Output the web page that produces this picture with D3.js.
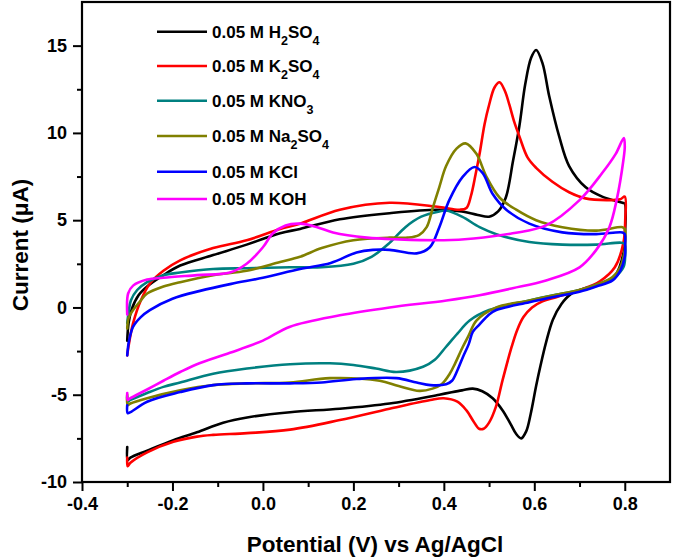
<!DOCTYPE html>
<html><head><meta charset="utf-8">
<script src="https://cdn.jsdelivr.net/npm/d3@7"></script>
<style>
html,body{margin:0;padding:0;background:#fff;}
svg{display:block;font-family:Arial,"Liberation Sans",sans-serif;font-weight:bold;}
</style></head>
<body><svg id="chart" width="675" height="560"></svg>
<script>
// ---------------- data (potential V, current µA) ----------------
const potentialTicks = [-0.4, -0.2, 0.0, 0.2, 0.4, 0.6, 0.8];
const potentialMinorTicks = [-0.3, -0.1, 0.1, 0.3, 0.5, 0.7];
const currentTicks = [-10, -5, 0, 5, 10, 15];
const currentMinorTicks = [-7.5, -2.5, 2.5, 7.5, 12.5];

const seriesLabels = ["0.05 M H_2SO_4", "0.05 M K_2SO_4", "0.05 M KNO_3", "0.05 M Na_2SO_4", "0.05 M KCl", "0.05 M KOH"];
const seriesColors = ["#000000", "#ff0000", "#008080", "#808000", "#0000ff", "#ff00ff"];

const h2so4 = [
 [-0.300,-1.9],[-0.297,-0.9],[-0.290,-0.1],[-0.275,0.7],[-0.256,1.2],[-0.220,1.85],[-0.183,2.4],[-0.110,3.0],[-0.036,3.6],[0.038,4.25],[0.082,4.5],[0.170,5.05],[0.280,5.4],[0.384,5.6],[0.440,5.5],[0.475,5.3],[0.500,5.2],[0.520,5.5],[0.537,6.3],[0.553,8.4],[0.567,10.4],[0.580,12.8],[0.593,14.3],[0.604,14.75],[0.618,14.0],[0.633,12.1],[0.655,9.8],[0.677,8.1],[0.713,6.9],[0.750,6.35],[0.795,6.0],[0.800,5.95],
 [0.801,4.5],[0.797,3.1],[0.778,1.8],[0.737,1.25],[0.707,1.05],[0.680,0.75],[0.660,0.2],[0.641,-0.7],[0.626,-2.0],[0.614,-3.3],[0.604,-4.5],[0.592,-6.1],[0.582,-7.1],[0.571,-7.5],[0.560,-7.25],[0.548,-6.7],[0.530,-5.9],[0.508,-5.2],[0.485,-4.8],[0.464,-4.65],[0.440,-4.75],[0.390,-5.0],[0.280,-5.5],[0.170,-5.8],[0.060,-6.0],[-0.035,-6.3],[-0.088,-6.6],[-0.146,-7.15],[-0.198,-7.6],[-0.256,-8.2],[-0.293,-8.6],[-0.299,-8.75],[-0.300,-8.0]
];
const k2so4 = [
 [-0.300,-2.75],[-0.297,-2.2],[-0.287,-0.9],[-0.270,0.4],[-0.249,1.4],[-0.220,2.1],[-0.183,2.7],[-0.110,3.4],[-0.036,3.85],[0.038,4.5],[0.082,4.8],[0.170,5.6],[0.280,6.0],[0.390,5.75],[0.435,5.6],[0.450,5.7],[0.460,6.4],[0.470,7.6],[0.479,8.8],[0.490,10.5],[0.500,11.6],[0.512,12.6],[0.523,12.9],[0.535,12.4],[0.545,11.6],[0.556,10.6],[0.567,9.8],[0.585,8.6],[0.604,8.0],[0.640,7.2],[0.677,6.6],[0.713,6.25],[0.760,6.15],[0.790,6.2],[0.800,6.35],
 [0.801,5.0],[0.797,3.7],[0.778,2.3],[0.745,1.5],[0.700,1.0],[0.650,0.6],[0.618,0.35],[0.595,0.0],[0.576,-0.55],[0.562,-1.3],[0.550,-2.25],[0.530,-4.15],[0.515,-5.7],[0.500,-6.6],[0.488,-6.95],[0.478,-6.95],[0.465,-6.5],[0.450,-5.9],[0.430,-5.4],[0.400,-5.2],[0.370,-5.3],[0.280,-5.8],[0.170,-6.45],[0.060,-7.0],[-0.035,-7.2],[-0.110,-7.3],[-0.146,-7.4],[-0.198,-7.7],[-0.256,-8.3],[-0.293,-8.9],[-0.299,-9.1],[-0.300,-8.6]
];
const kno3 = [
 [-0.300,-0.9],[-0.297,-0.3],[-0.292,0.4],[-0.278,1.0],[-0.256,1.45],[-0.220,1.85],[-0.183,2.0],[-0.110,2.2],[-0.036,2.25],[0.060,2.3],[0.130,2.3],[0.200,2.5],[0.240,2.9],[0.280,3.7],[0.315,4.6],[0.350,5.2],[0.390,5.5],[0.405,5.55],[0.440,5.2],[0.479,4.6],[0.516,4.2],[0.589,3.75],[0.662,3.6],[0.737,3.6],[0.795,3.7],[0.800,3.6],
 [0.801,3.0],[0.797,2.3],[0.778,1.75],[0.737,1.3],[0.700,1.0],[0.662,0.8],[0.589,0.4],[0.500,-0.15],[0.457,-0.75],[0.430,-1.5],[0.405,-2.25],[0.380,-3.0],[0.354,-3.4],[0.295,-3.7],[0.250,-3.5],[0.200,-3.3],[0.148,-3.2],[0.060,-3.25],[-0.035,-3.5],[-0.110,-3.8],[-0.183,-4.3],[-0.220,-4.55],[-0.256,-4.9],[-0.293,-5.3],[-0.299,-5.4],[-0.300,-5.1]
];
const na2so4 = [
 [-0.300,-1.2],[-0.297,-0.6],[-0.287,-0.15],[-0.270,0.4],[-0.256,0.8],[-0.220,1.2],[-0.183,1.45],[-0.110,1.85],[-0.036,2.1],[0.038,2.6],[0.082,2.9],[0.130,3.4],[0.200,3.85],[0.280,4.0],[0.320,4.0],[0.345,4.15],[0.362,4.6],[0.376,5.75],[0.390,6.9],[0.405,8.1],[0.428,9.1],[0.448,9.4],[0.472,8.8],[0.494,7.5],[0.523,6.3],[0.560,5.6],[0.604,5.0],[0.662,4.6],[0.737,4.4],[0.795,4.6],[0.800,4.5],
 [0.801,3.8],[0.800,3.3],[0.790,2.3],[0.773,1.75],[0.737,1.3],[0.700,1.0],[0.662,0.8],[0.589,0.4],[0.516,0.0],[0.472,-0.75],[0.455,-1.6],[0.442,-2.25],[0.425,-3.2],[0.413,-3.8],[0.395,-4.4],[0.375,-4.65],[0.346,-4.78],[0.300,-4.5],[0.258,-4.2],[0.148,-4.05],[0.060,-4.3],[-0.035,-4.35],[-0.110,-4.45],[-0.183,-4.75],[-0.256,-5.2],[-0.293,-5.5],[-0.299,-5.6],[-0.300,-5.0]
];
const kcl = [
 [-0.300,-2.75],[-0.296,-1.9],[-0.287,-1.1],[-0.270,-0.55],[-0.250,-0.15],[-0.200,0.5],[-0.139,0.95],[-0.070,1.35],[0.000,1.7],[0.082,2.2],[0.150,2.55],[0.207,3.15],[0.243,3.3],[0.280,3.3],[0.340,3.1],[0.369,3.45],[0.390,4.6],[0.412,6.15],[0.442,7.5],[0.468,8.05],[0.486,7.7],[0.508,6.5],[0.538,5.6],[0.589,4.8],[0.662,4.3],[0.737,4.2],[0.795,4.3],[0.800,4.2],
 [0.801,3.6],[0.800,2.9],[0.790,2.1],[0.773,1.55],[0.737,1.2],[0.700,0.9],[0.662,0.7],[0.589,0.3],[0.516,-0.15],[0.500,-0.4],[0.478,-1.0],[0.464,-1.4],[0.455,-2.1],[0.442,-2.85],[0.430,-3.6],[0.418,-4.2],[0.405,-4.4],[0.370,-4.45],[0.340,-4.3],[0.295,-4.05],[0.207,-4.1],[0.130,-4.3],[0.060,-4.35],[-0.035,-4.35],[-0.110,-4.45],[-0.183,-4.85],[-0.256,-5.4],[-0.293,-6.0],[-0.299,-6.05],[-0.300,-5.6]
];
const koh = [
 [-0.300,-0.4],[-0.298,0.8],[-0.287,1.25],[-0.256,1.6],[-0.220,1.7],[-0.146,1.85],[-0.073,2.0],[-0.036,2.5],[0.000,3.45],[0.022,4.25],[0.050,4.7],[0.082,4.8],[0.120,4.6],[0.155,4.3],[0.230,4.0],[0.300,3.9],[0.400,3.85],[0.466,3.95],[0.552,4.25],[0.626,4.7],[0.700,6.15],[0.750,7.7],[0.780,8.8],[0.798,9.7],
 [0.800,9.2],[0.797,8.45],[0.782,6.15],[0.766,4.6],[0.737,3.3],[0.700,2.3],[0.626,1.55],[0.552,1.1],[0.479,0.7],[0.406,0.4],[0.280,0.0],[0.170,-0.45],[0.060,-1.1],[0.000,-1.9],[-0.073,-2.6],[-0.146,-3.25],[-0.183,-3.7],[-0.220,-4.2],[-0.256,-4.7],[-0.293,-5.2],[-0.299,-5.3],[-0.300,-4.9]
];
const seriesData = [h2so4, k2so4, kno3, na2so4, kcl, koh];

// ---------------- layout ----------------
const plot = {left: 82, right: 670, top: 2, bottom: 482};
const legendRowY = [31.7, 66, 100.7, 136, 171.7, 199];

const svg = d3.select("#chart");
const x = d3.scaleLinear().domain([-0.4, 0.9]).range([plot.left, plot.right]);
const y = d3.scaleLinear().domain([-10, 17.5]).range([plot.bottom, plot.top]);

// curves
const line = d3.line().x(d => x(d[0])).y(d => y(d[1])).curve(d3.curveCatmullRom.alpha(0.5));
const gCurves = svg.append("g");
seriesData.forEach((s, i) => {
  gCurves.append("path").attr("d", line(s)).attr("fill", "none")
    .attr("stroke", seriesColors[i]).attr("stroke-width", 2.6)
    .attr("stroke-linejoin", "round").attr("stroke-linecap", "round");
});

// frame
svg.append("rect").attr("x", plot.left).attr("y", plot.top)
  .attr("width", plot.right - plot.left).attr("height", plot.bottom - plot.top)
  .attr("fill", "none").attr("stroke", "#000").attr("stroke-width", 2.2);

// axes
const fmtX = d => d === 0 ? "0.0" : d3.format(".1f")(d).replace("\u2212", "-");
const xAxis = svg.append("g").attr("transform", `translate(0,${plot.bottom})`)
  .call(d3.axisBottom(x).tickValues(potentialTicks).tickSize(9).tickPadding(6).tickFormat(fmtX));
const xMinor = svg.append("g").attr("transform", `translate(0,${plot.bottom})`)
  .call(d3.axisBottom(x).tickValues(potentialMinorTicks).tickSize(5).tickFormat(""));
const yAxis = svg.append("g").attr("transform", `translate(${plot.left},0)`)
  .call(d3.axisLeft(y).tickValues(currentTicks).tickSize(9).tickPadding(6).tickFormat(d => String(d)));
const yMinor = svg.append("g").attr("transform", `translate(${plot.left},0)`)
  .call(d3.axisLeft(y).tickValues(currentMinorTicks).tickSize(5).tickFormat(""));
[xAxis, xMinor, yAxis, yMinor].forEach(g => {
  g.select(".domain").remove();
  g.selectAll(".tick line").attr("stroke", "#000").attr("stroke-width", 2);
  g.selectAll("text").attr("fill", "#000").attr("font-size", 18)
    .attr("font-family", 'Arial,"Liberation Sans",sans-serif').attr("font-weight", "bold");
});
xMinor.selectAll("text").remove();
yMinor.selectAll("text").remove();

// axis titles
svg.append("text").attr("x", (plot.left + plot.right) / 2 - 1).attr("y", 552)
  .attr("text-anchor", "middle").attr("font-size", 22.5).text("Potential (V) vs Ag/AgCl");
svg.append("text").attr("transform", `translate(28,${(plot.top + plot.bottom) / 2 + 3}) rotate(-90)`)
  .attr("text-anchor", "middle").attr("font-size", 22.5).text("Current (\u03bcA)");

// legend
const legend = svg.append("g");
seriesLabels.forEach((lab, i) => {
  const ly = legendRowY[i];
  legend.append("line").attr("x1", 157).attr("x2", 207).attr("y1", ly).attr("y2", ly)
    .attr("stroke", seriesColors[i]).attr("stroke-width", 2.6);
  const t = legend.append("text").attr("x", 212).attr("y", ly + 6.3).attr("font-size", 17);
  const parts = lab.split(/_(\d)/);
  let shift = 0;
  parts.forEach((p, k) => {
    if (p === "") return;
    if (k % 2 === 1) {
      t.append("tspan").attr("dy", 6.5 - shift).attr("font-size", 12.5).text(p);
      shift = 6.5;
    } else {
      t.append("tspan").attr("dy", -shift).text(p);
      shift = 0;
    }
  });
});
</script></body></html>
